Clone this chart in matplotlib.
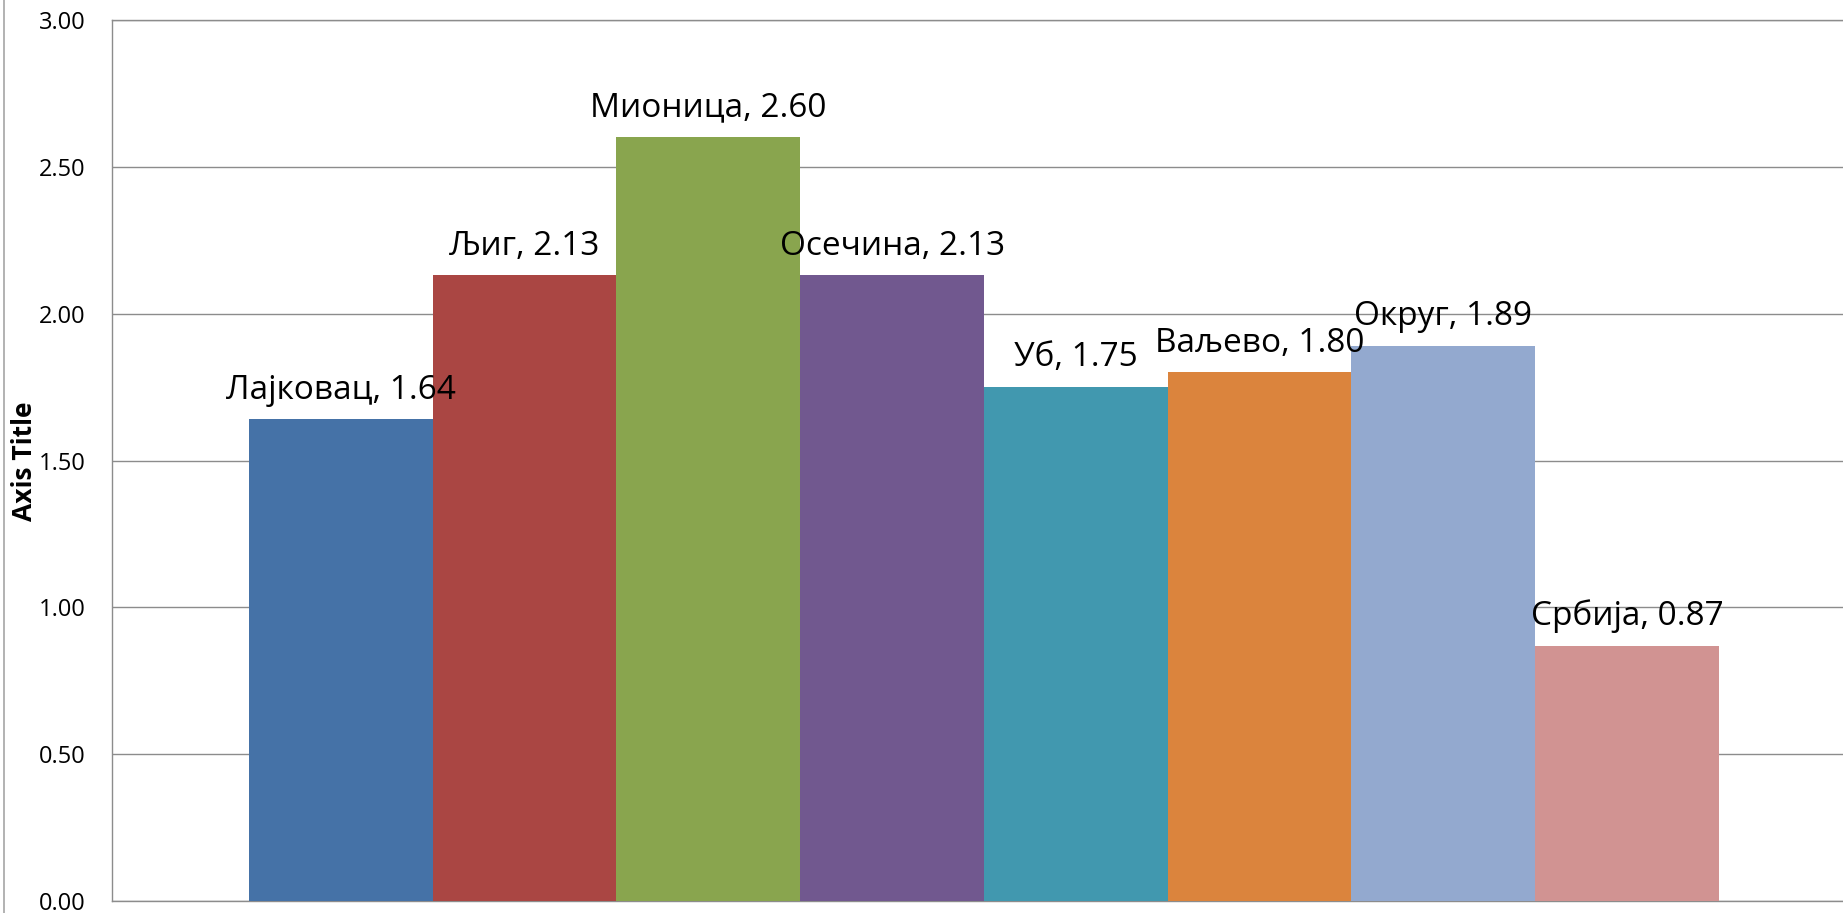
import matplotlib
matplotlib.use("Agg")
import matplotlib.pyplot as plt
from matplotlib.lines import Line2D

# data
names = ["Лајковац", "Љиг", "Мионица", "Осечина", "Уб", "Ваљево", "Округ", "Србија"]
values = [1.64, 2.13, 2.60, 2.13, 1.75, 1.80, 1.89, 0.87]
colors = ["#4572A7", "#AA4643", "#89A54E", "#71588F",
          "#4198AF", "#DB843D", "#93A9CF", "#D19392"]
yticks = [0.0, 0.5, 1.0, 1.5, 2.0, 2.5, 3.0]

plt.rcParams['font.family'] = ['Open Sans', 'DejaVu Sans']

fig = plt.figure(figsize=(18.43, 9.13), dpi=100)
ax = fig.add_axes([112 / 1843, 12 / 913, 1 - 112 / 1843, (901 - 20) / 913])

xs = list(range(len(names)))
ax.bar(xs, values, width=1.0, color=colors, zorder=3)

for x, v, n in zip(xs, values, names):
    ax.annotate("%s, %.2f" % (n, v), (x, v), xytext=(0, 15),
                textcoords="offset points", ha="center", va="baseline",
                fontsize=24, zorder=4)

ax.set_xlim(-1.2456, 8.175)
ax.set_ylim(0, 3.0)
ax.set_yticks(yticks)
ax.set_yticklabels(["%.2f" % t for t in yticks])
ax.set_xticks([])
ax.tick_params(axis="y", length=0, pad=19, labelsize=17)
ax.grid(axis="y", color="#8c8c8c", linewidth=1.0, zorder=0)

for side in ("left", "bottom", "top"):
    ax.spines[side].set_color("#8c8c8c")
    ax.spines[side].set_linewidth(1.0)
ax.spines["right"].set_visible(False)

fig.text(25 / 1843, (913 - 461) / 913, "Axis Title", rotation=90,
         ha="center", va="center", fontsize=19, fontweight="bold")

# outer chart border on the left
fig.add_artist(Line2D([3.5 / 1843, 3.5 / 1843], [0, 1], color="#a6a6a6",
                      linewidth=1.2, transform=fig.transFigure))

fig.savefig("out.png", dpi=100)
